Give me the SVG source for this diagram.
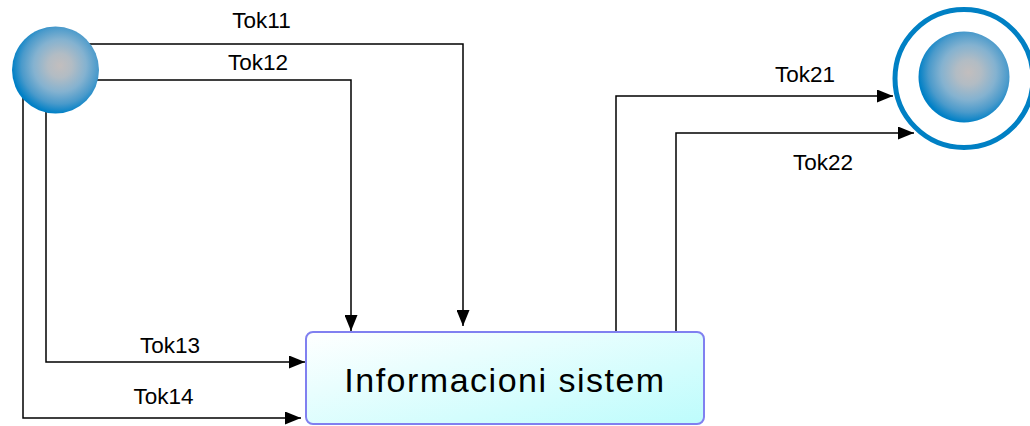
<svg xmlns="http://www.w3.org/2000/svg" width="1030" height="426" viewBox="0 0 1030 426">
<defs>
<radialGradient id="ball" cx="0.55" cy="0.45" r="0.55">
<stop offset="0" stop-color="#c2bebe"/>
<stop offset="0.25" stop-color="#b2bcc4"/>
<stop offset="0.55" stop-color="#84b2d0"/>
<stop offset="0.8" stop-color="#4a9acb"/>
<stop offset="1" stop-color="#0080c6"/>
</radialGradient>
<linearGradient id="box" x1="0" y1="0" x2="1" y2="1">
<stop offset="0" stop-color="#ffffff"/>
<stop offset="1" stop-color="#bdfcfc"/>
</linearGradient>
<marker id="arr" viewBox="0 0 16 13" refX="16" refY="6.5" markerWidth="16" markerHeight="13" markerUnits="userSpaceOnUse" orient="auto">
<path d="M0,0 L16,6.5 L0,13 Z" fill="#000"/>
</marker>
<style>
.c{fill:none;stroke:#000;stroke-width:1.5;marker-end:url(#arr)}
.t{font-family:"Liberation Sans",Arial,sans-serif;font-size:22.5px;fill:#000;text-anchor:middle}
</style>
</defs>
<g id="connectors">
<polyline class="c" points="60,44 463,44 463,326"/>
<polyline class="c" points="60,80 351,80 351,331"/>
<polyline class="c" points="46,80 46,362 305,362"/>
<polyline class="c" points="23,80 23,418 301,418"/>
<polyline class="c" points="616,332 616,96 893,96"/>
<polyline class="c" points="676,332 676,133 914,133"/>
<text class="t" x="261.5" y="27.5">Tok11</text>
<text class="t" x="258" y="70">Tok12</text>
<text class="t" x="170" y="353">Tok13</text>
<text class="t" x="163.5" y="403.5">Tok14</text>
<text class="t" x="805" y="82">Tok21</text>
<text class="t" x="823" y="170">Tok22</text>
</g>
<g id="source">
<circle cx="55.5" cy="70" r="43.5" fill="url(#ball)"/>
</g>
<g id="sink">
<circle cx="964" cy="78.5" r="69" fill="#fff" stroke="#0080c4" stroke-width="5"/>
<circle cx="964" cy="77" r="45.5" fill="url(#ball)"/>
</g>
<g id="system">
<rect x="306" y="332" width="398" height="92" rx="7" fill="url(#box)" stroke="#8080f0" stroke-width="2"/>
<text x="505" y="392" font-family="'Liberation Sans',Arial,sans-serif" font-size="34" letter-spacing="1.5" text-anchor="middle" fill="#000">Informacioni sistem</text>
</g>
</svg>
